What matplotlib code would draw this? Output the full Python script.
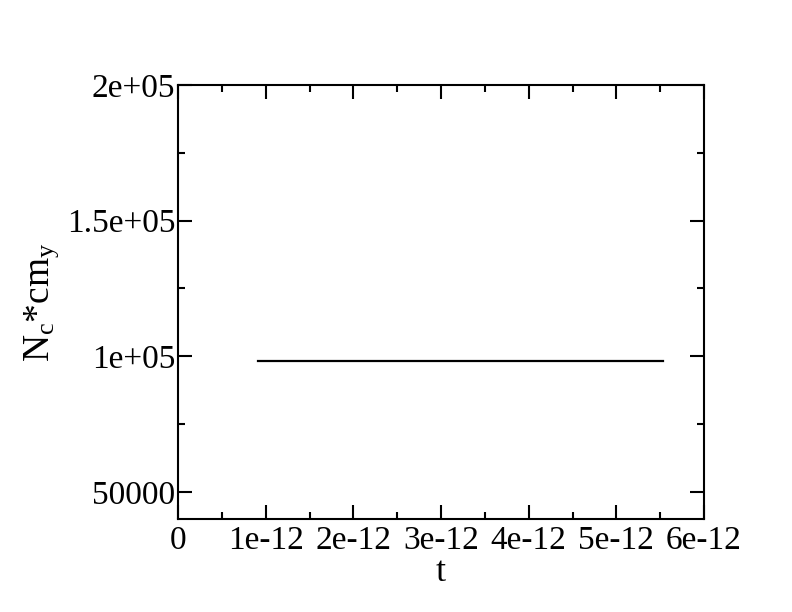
import matplotlib
matplotlib.use("Agg")
import matplotlib.pyplot as plt
from matplotlib.ticker import MultipleLocator

# data
t = [0.91e-12, 5.53e-12]
ncy = [98200, 98200]

x_ticks = [0, 1e-12, 2e-12, 3e-12, 4e-12, 5e-12, 6e-12]
x_labels = ["0", "1e-12", "2e-12", "3e-12", "4e-12", "5e-12", "6e-12"]
y_ticks = [50000, 100000, 150000, 200000]
y_labels = ["50000", "1e+05", "1.5e+05", "2e+05"]

plt.rcParams['font.family'] = ['Liberation Serif', 'DejaVu Serif']
plt.rcParams['mathtext.fontset'] = 'custom'
plt.rcParams['mathtext.rm'] = 'Liberation Serif'

fig = plt.figure(figsize=(7.92, 6.12), dpi=100)
ax = fig.add_axes([178 / 792, 1 - 519 / 612, (704 - 178) / 792, (519 - 85) / 612])

ax.plot(t, ncy, color='black', linewidth=1.6)

ax.set_xlim(0, 6e-12)
ax.set_ylim(40000, 200000)
ax.set_xticks(x_ticks)
ax.set_xticklabels(x_labels)
ax.set_yticks(y_ticks)
ax.set_yticklabels(y_labels)
ax.xaxis.set_minor_locator(MultipleLocator(0.5e-12))
ax.yaxis.set_minor_locator(MultipleLocator(25000))

ax.tick_params(which='both', direction='in', top=True, right=True, width=1.5)
ax.tick_params(which='major', length=10, labelsize=24)
ax.tick_params(which='minor', length=5)
ax.tick_params(axis='x', pad=5)
ax.tick_params(axis='y', pad=2)
for s in ax.spines.values():
    s.set_linewidth(1.5)

ax.set_xlabel('t', fontsize=26, labelpad=0)
ax.set_ylabel(r'$\mathregular{N_c{*}cm_y}$', fontsize=27, labelpad=4)

fig.savefig('out.png', dpi=100)
